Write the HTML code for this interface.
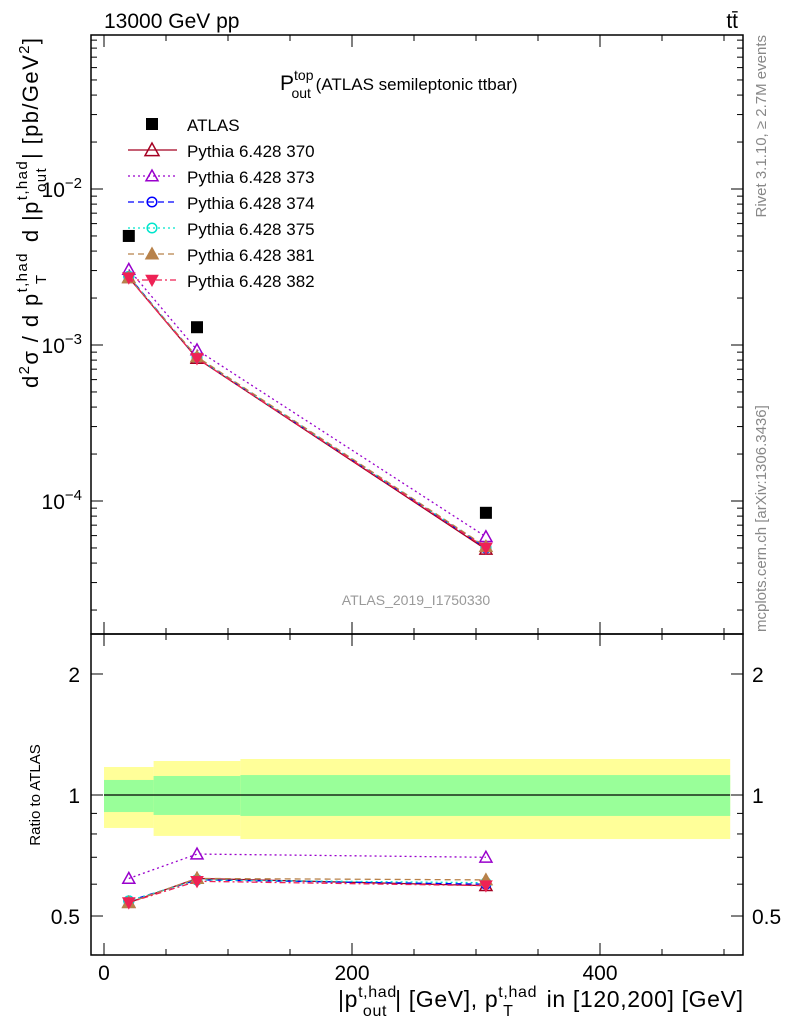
<!DOCTYPE html>
<html><head><meta charset="utf-8"><style>
body{margin:0;background:#fff;}
svg text{font-family:"Liberation Sans",sans-serif;}
</style></head><body>
<svg id="c" width="786" height="1024" xmlns="http://www.w3.org/2000/svg"></svg>
<script>
const binEdges=[0,40,110,505];
const xCenters=[20,75,308];
const atlas=[5.0e-3,1.3e-3,8.4e-5];
const yellowHi=[1.174,1.215,1.229];
const yellowLo=[0.828,0.791,0.777];
const greenHi=[1.090,1.115,1.121];
const greenLo=[0.907,0.892,0.887];
const names=["Pythia 6.428 370","Pythia 6.428 373","Pythia 6.428 374","Pythia 6.428 375","Pythia 6.428 381","Pythia 6.428 382"];
const main370=[2.7e-3,8.2e-4,4.9e-5];
const main373=[3.05e-3,9.3e-4,5.9e-5];
const main374=[2.75e-3,8.3e-4,5.0e-5];
const main375=[2.75e-3,8.3e-4,5.05e-5];
const main381=[2.7e-3,8.4e-4,5.1e-5];
const main382=[2.7e-3,8.2e-4,5.0e-5];
const r370=[0.54,0.62,0.595];
const r373=[0.62,0.713,0.70];
const r374=[0.545,0.615,0.60];
const r375=[0.545,0.615,0.605];
const r381=[0.54,0.62,0.615];
const r382=[0.54,0.61,0.595];
const xTicks=[0,200,400];
const yMainTicks=[-2,-3,-4];
const yRatioTicks=[2,1,0.5];

const svg=document.getElementById('c');
const NS="http://www.w3.org/2000/svg";
function mk(t,a,p){const e=document.createElementNS(NS,t);for(const k in a)e.setAttribute(k,a[k]);(p||svg).appendChild(e);return e;}
const L=91,R=743,T=35,M=634,B=955;
const X=v=>104+v*1.24;
const YM=v=>189-(Math.log10(v)+2)*156;
const YR=v=>795-Math.log10(v)*402;

for(let i=0;i<3;i++){
 let e=mk('rect',{x:X(binEdges[i]),y:YR(yellowHi[i]),width:X(binEdges[i+1])-X(binEdges[i]),height:YR(yellowLo[i])-YR(yellowHi[i]),fill:'#ffff99'});
 
 e=mk('rect',{x:X(binEdges[i]),y:YR(greenHi[i]),width:X(binEdges[i+1])-X(binEdges[i]),height:YR(greenLo[i])-YR(greenHi[i]),fill:'#99ff99'});
 
}
mk('line',{x1:X(binEdges[0]),x2:X(binEdges[3]),y1:YR(1),y2:YR(1),stroke:'#000','stroke-width':1.2});

let f=mk('rect',{x:L,y:T,width:R-L,height:M-T,fill:'none',stroke:'#000','stroke-width':1.5});

f=mk('rect',{x:L,y:M,width:R-L,height:B-M,fill:'none',stroke:'#000','stroke-width':1.5});


for(let v=0;v<=500;v+=50){
 const big=v%200===0, h=big?12:6, x=X(v);
 [[T,1],[M,-1],[M,1],[B,-1]].forEach(([y,d])=>mk('line',{x1:x,x2:x,y1:y,y2:y+d*h,stroke:'#000'}));
}
xTicks.forEach(v=>{const t=mk('text',{x:X(v),y:980,'font-size':21,'text-anchor':'middle'});t.textContent=v;
 });
for(let d=-5;d<=-1;d++)for(let m=1;m<10;m++){
 const v=m*Math.pow(10,d),y=YM(v);if(y<T||y>M)continue;
 const h=m===1?12:6;
 mk('line',{x1:L,x2:L+h,y1:y,y2:y,stroke:'#000'});mk('line',{x1:R,x2:R-h,y1:y,y2:y,stroke:'#000'});
}
yMainTicks.forEach(d=>{const t=mk('text',{x:82,y:YM(Math.pow(10,d))+8,'font-size':21,'text-anchor':'end'});
 t.innerHTML='10<tspan dy="-9" font-size="15">−'+(-d)+'</tspan>';
 });
[0.4,0.5,0.6,0.7,0.8,0.9,1,2].forEach(v=>{const y=YR(v),h=(v===1||v===2||v===0.5)?12:6;
 mk('line',{x1:L,x2:L+h,y1:y,y2:y,stroke:'#000'});mk('line',{x1:R,x2:R-h,y1:y,y2:y,stroke:'#000'});});
yRatioTicks.forEach(v=>{[[80,'end'],[752,'start']].forEach(([x,a])=>{const t=mk('text',{x:x,y:YR(v)+8,'font-size':21,'text-anchor':a});t.textContent=v;
 });});

const styles=[
 {c:'#a50021',d:'',m:'tri',fill:'none'},
 {c:'#9900cc',d:'2,3',m:'tri',fill:'none'},
 {c:'#0000ff',d:'6,4',m:'circ',fill:'none'},
 {c:'#00e5cc',d:'2,3',m:'circ',fill:'none'},
 {c:'#b8824a',d:'6,4',m:'trif',fill:'#b8824a'},
 {c:'#ee2255',d:'6,3,2,3',m:'tinv',fill:'#ee2255'}];
const mains=[main370,main373,main374,main375,main381,main382];
const ratios=[r370,r373,r374,r375,r381,r382];
function marker(s,x,y,sz){
 let e;
 if(s.m==='tri'||s.m==='trif')e=mk('polygon',{points:`${x},${y-sz} ${x-sz},${y+sz*0.8} ${x+sz},${y+sz*0.8}`,fill:s.m==='trif'?s.fill:'#fff','fill-opacity':s.m==='trif'?1:0,stroke:s.c,'stroke-width':1.5});
 else if(s.m==='tinv')e=mk('polygon',{points:`${x},${y+sz} ${x-sz},${y-sz*0.8} ${x+sz},${y-sz*0.8}`,fill:s.fill,stroke:s.c});
 else e=mk('circle',{cx:x,cy:y,r:sz*0.8,fill:'none',stroke:s.c,'stroke-width':1.5});
 
}
styles.forEach((s,i)=>{
 [[mains[i],YM],[ratios[i],YR]].forEach(([arr,Y])=>{
  const l=mk('polyline',{points:arr.map((v,j)=>X(xCenters[j])+','+Y(v)).join(' '),fill:'none',stroke:s.c,'stroke-width':1.3,'stroke-dasharray':s.d});
  
  arr.forEach((v,j)=>marker(s,X(xCenters[j]),Y(v),6));
 });
 const ly=150+i*26;
 mk('line',{x1:128,x2:177,y1:ly,y2:ly,stroke:s.c,'stroke-width':1.3,'stroke-dasharray':s.d});
 marker(s,152,ly,i===0?7:6);
 const t=mk('text',{x:187,y:ly+7,'font-size':17});t.textContent=names[i];
 
});
atlas.forEach((v,j)=>{const e=mk('rect',{x:X(xCenters[j])-6,y:YM(v)-6,width:12,height:12,fill:'#000'});
 });
mk('rect',{x:146,y:118,width:12,height:12,fill:'#000'});
let t=mk('text',{x:187,y:131,'font-size':17});t.textContent='ATLAS';


function txt(html,a,name){const e=mk('text',a);e.innerHTML=html;return e;}
txt('13000 GeV pp',{x:104,y:28,'font-size':21},'energy-label');
txt('tt̄',{x:738,y:28,'font-size':21,'text-anchor':'end'},'process-label');
txt('P<tspan dy="-10" font-size="14">top</tspan><tspan dx="-22" dy="18" font-size="14">out</tspan><tspan dy="-8" font-size="17"> (ATLAS semileptonic ttbar)</tspan>',{x:280,y:90,'font-size':21},'plot-title');
txt('ATLAS_2019_I1750330',{x:416,y:605,'font-size':14,fill:'#999','text-anchor':'middle'},'analysis-id');
txt('Rivet 3.1.10, ≥ 2.7M events',{x:0,y:0,'font-size':15,fill:'#888',transform:'translate(766,35) rotate(-90)','text-anchor':'end'},'rivet-label');
txt('mcplots.cern.ch [arXiv:1306.3436]',{x:0,y:0,'font-size':15,fill:'#888',transform:'translate(766,632) rotate(-90)'},'mcplots-label');
txt('Ratio to ATLAS',{x:0,y:0,'font-size':15,transform:'translate(40,795) rotate(-90)','text-anchor':'middle'},'ratio-y-title');
txt('d<tspan dy="-9" font-size="15">2</tspan><tspan dy="9">σ / d p</tspan><tspan dy="-11" font-size="15">t,had</tspan><tspan dx="-32" dy="19" font-size="15">T</tspan><tspan dx="24" dy="-8"> d |p</tspan><tspan dy="-11" font-size="15">t,had</tspan><tspan dx="-32" dy="19" font-size="15">out</tspan><tspan dx="8" dy="-8">| [pb/GeV</tspan><tspan dy="-9" font-size="15">2</tspan><tspan dy="9">]</tspan>',{x:0,y:0,'font-size':22,transform:'translate(38,388) rotate(-90)',textLength:350,lengthAdjust:'spacing'},'y-axis-title');
txt('|p<tspan dy="-10" font-size="16">t,had</tspan><tspan dx="-34" dy="19" font-size="16">out</tspan><tspan dx="8" dy="-9">| [GeV], p</tspan><tspan dy="-10" font-size="16">t,had</tspan><tspan dx="-34" dy="19" font-size="16">T</tspan><tspan dx="26" dy="-9"> in [120,200] [GeV]</tspan>',{x:338,y:1007,'font-size':23,textLength:405,lengthAdjust:'spacing'},'x-axis-title');
</script>
</body></html>
